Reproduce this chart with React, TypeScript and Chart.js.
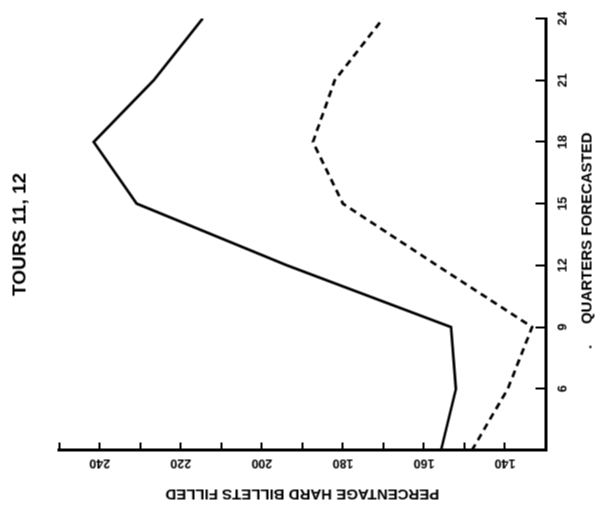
import React, { useEffect, useRef } from 'react';
import { Chart, registerables } from 'chart.js';

Chart.register(...registerables);

// Quarters forecasted (x of the original, un-rotated chart)
const QUARTERS = [3, 6, 9, 12, 15, 18, 21, 24];
// Percentage of hard billets filled, solid series
const SOLID = [155.8, 152.1, 153.3, 193.8, 230.9, 241.5, 226.7, 214.6];
// Percentage of hard billets filled, dashed series
const DASHED = [148.2, 139.3, 133.3, 156.8, 180.0, 187.4, 182.0, 170.1];
// Labelled ticks
const PCT_TICK_LABELS = [140, 160, 180, 200, 220, 240];
const QUARTER_TICK_LABELS = [6, 9, 12, 15, 18, 21, 24];

const TITLE = 'TOURS 11, 12';
const X_TITLE = '.     QUARTERS FORECASTED   ';
const Y_TITLE = 'PERCENTAGE HARD BILLETS FILLED';

const FONT = "'Liberation Sans', Arial, Helvetica, sans-serif";

export default function App() {
  const ref = useRef<HTMLCanvasElement | null>(null);

  useEffect(() => {
    if (!ref.current) return;
    const solid = QUARTERS.map((q, i) => ({ x: q, y: SOLID[i] }));
    const dashed = QUARTERS.map((q, i) => ({ x: q, y: DASHED[i] }));
    const chart = new Chart(ref.current, {
      type: 'line',
      data: {
        datasets: [
          {
            data: solid,
            borderColor: '#000',
            borderWidth: 2.7,
            pointRadius: 0,
            tension: 0,
            fill: false,
          },
          {
            data: dashed,
            borderColor: '#000',
            borderWidth: 2.7,
            borderDash: [7, 5],
            pointRadius: 0,
            tension: 0,
            fill: false,
          },
        ],
      },
      options: {
        responsive: false,
        animation: false,
        events: [],
        layout: { autoPadding: false, padding: { left: 0, right: 18, top: 0, bottom: 0 } },
        plugins: {
          legend: { display: false },
          tooltip: { enabled: false },
          title: {
            display: true,
            text: TITLE,
            fullSize: false,
            color: '#000',
            font: { family: FONT, size: 19, weight: 'bold' },
            padding: { top: 8, bottom: 28 },
          },
        },
        scales: {
          x: {
            type: 'linear',
            position: 'bottom',
            min: 3,
            max: 24,
            afterFit: (s: any) => {
              s.height = 54;
              s.paddingLeft = 0;
              s.paddingRight = 0;
            },
            border: { display: true, color: '#000', width: 3 },
            grid: {
              display: true,
              drawOnChartArea: false,
              drawTicks: true,
              tickLength: -10,
              color: '#000',
              lineWidth: 2,
            },
            ticks: {
              stepSize: 3,
              color: '#000',
              padding: 20,
              maxRotation: 0,
              minRotation: 0,
              font: { family: FONT, size: 12.5, weight: 'bold' },
              callback: (v: any) => (QUARTER_TICK_LABELS.includes(Number(v)) ? String(v) : ''),
            },
            title: {
              display: true,
              text: X_TITLE,
              color: '#000',
              font: { family: FONT, size: 15, weight: 'bold' },
              padding: { top: 0, bottom: 3 },
            },
          },
          y: {
            type: 'linear',
            position: 'left',
            min: 130,
            max: 250,
            afterFit: (s: any) => {
              s.width = 68;
              s.paddingTop = 0;
              s.paddingBottom = 0;
            },
            border: { display: true, color: '#000', width: 3 },
            grid: {
              display: true,
              drawOnChartArea: false,
              drawTicks: true,
              tickLength: -8,
              color: '#000',
              lineWidth: 2,
            },
            ticks: {
              stepSize: 10,
              color: '#000',
              padding: 10,
              minRotation: 90,
              maxRotation: 90,
              crossAlign: 'center',
              font: { family: FONT, size: 12.5, weight: 'bold' },
              callback: (v: any) => (PCT_TICK_LABELS.includes(Number(v)) ? String(v) : ''),
            },
            title: {
              display: true,
              text: Y_TITLE,
              color: '#000',
              font: { family: FONT, size: 15, weight: 'bold' },
              padding: { top: 16, bottom: 0 },
            },
          },
        },
      },
    } as any);
    return () => chart.destroy();
  }, []);

  return (
    <div
      style={{
        position: 'absolute',
        left: 0,
        top: 0,
        width: 599,
        height: 518,
        overflow: 'hidden',
        background: '#fff',
      }}
    >
      <canvas
        ref={ref}
        width={518}
        height={599}
        style={{
          position: 'absolute',
          display: 'block',
          width: 518,
          height: 599,
          left: 40.5,
          top: -40.5,
          transform: 'rotate(-90deg)',
          transformOrigin: '50% 50%',
        }}
      />
    </div>
  );
}
